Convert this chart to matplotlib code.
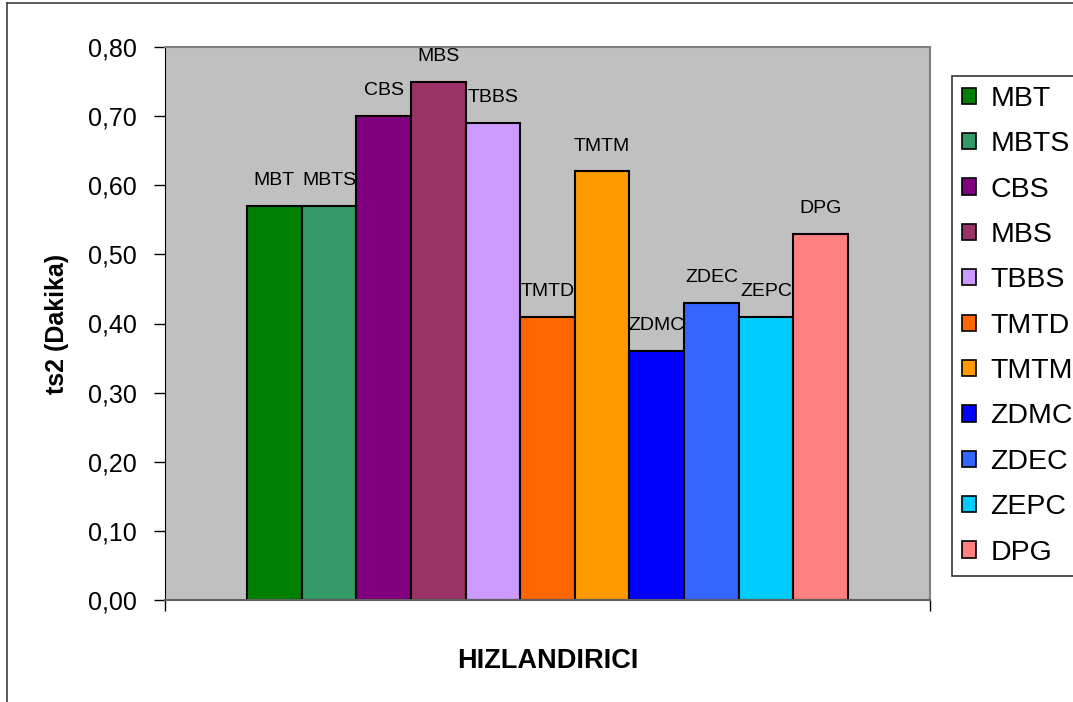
import matplotlib.pyplot as plt
from matplotlib.patches import Rectangle
from matplotlib.lines import Line2D
import numpy as np

plt.rcParams['font.family'] = ['Liberation Sans', 'DejaVu Sans']

names = ['MBT', 'MBTS', 'CBS', 'MBS', 'TBBS', 'TMTD', 'TMTM',
         'ZDMC', 'ZDEC', 'ZEPC', 'DPG']
ts2 = [0.57, 0.57, 0.70, 0.75, 0.69, 0.41, 0.62, 0.36, 0.43, 0.41, 0.53]
colors = ['#008000', '#339966', '#800080', '#993366', '#CC99FF', '#FF6600',
          '#FF9900', '#0000FF', '#3366FF', '#00CCFF', '#FF8080']
yticks = [0.0, 0.1, 0.2, 0.3, 0.4, 0.5, 0.6, 0.7, 0.8]

fig = plt.figure(figsize=(10.73, 7.02), dpi=100)
ax = fig.add_axes([165/1073, 102/702, 765/1073, 553/702])
ax.set_facecolor('#C0C0C0')

# one category, eleven series side by side
n = len(names)
gap = 82/765
w = (1 - 2*gap) / n
x = gap + w/2 + w*np.arange(n)
ax.bar(x, ts2, width=w, color=colors, edgecolor='black', linewidth=1.5)

for xi, v, name in zip(x, ts2, names):
    ax.annotate(name, (xi, v), xytext=(0, 12), textcoords='offset points',
                ha='center', va='bottom', fontsize=14)

ax.set_xlim(0, 1)
ax.set_ylim(0, 0.8)
ax.set_yticks(yticks)
ax.set_yticklabels([('%.2f' % t).replace('.', ',') for t in yticks])
ax.set_xticks([0, 1])
ax.set_xticklabels(['', ''])
ax.tick_params(axis='y', direction='out', length=8, width=1, labelsize=18, pad=12)
ax.tick_params(axis='x', direction='out', length=8, width=1)

for s in ['top', 'right']:
    ax.spines[s].set_color('#808080')
    ax.spines[s].set_linewidth(1.5)
ax.spines['left'].set_color('black')
ax.spines['bottom'].set_color('#606060')
ax.spines['bottom'].set_linewidth(1.5)

ax.set_ylabel('ts2 (Dakika)', fontsize=18, fontweight='bold', labelpad=14)
ax.set_xlabel('HIZLANDIRICI', fontsize=19.5, fontweight='bold', labelpad=23)

handles = [Rectangle((0, 0), 1, 1, facecolor=c, edgecolor='black', linewidth=1.2)
           for c in colors]
leg = fig.legend(handles, names, loc='upper left',
                 bbox_to_anchor=(952/1073, 1 - 76/702), fontsize=20.5,
                 frameon=True, fancybox=False, edgecolor='black',
                 handlelength=0.5, handleheight=0.5, handletextpad=0.5,
                 labelspacing=0.68, borderpad=0.35, borderaxespad=0)
leg.get_frame().set_linewidth(1.2)

# chart border
fig.add_artist(Line2D([7/1073, 7/1073], [0, 1 - 3/702], color='#404040',
                      linewidth=1.2, transform=fig.transFigure))
fig.add_artist(Line2D([7/1073, 1], [1 - 3/702, 1 - 3/702], color='#404040',
                      linewidth=1.2, transform=fig.transFigure))

fig.savefig('out.png', dpi=100)
